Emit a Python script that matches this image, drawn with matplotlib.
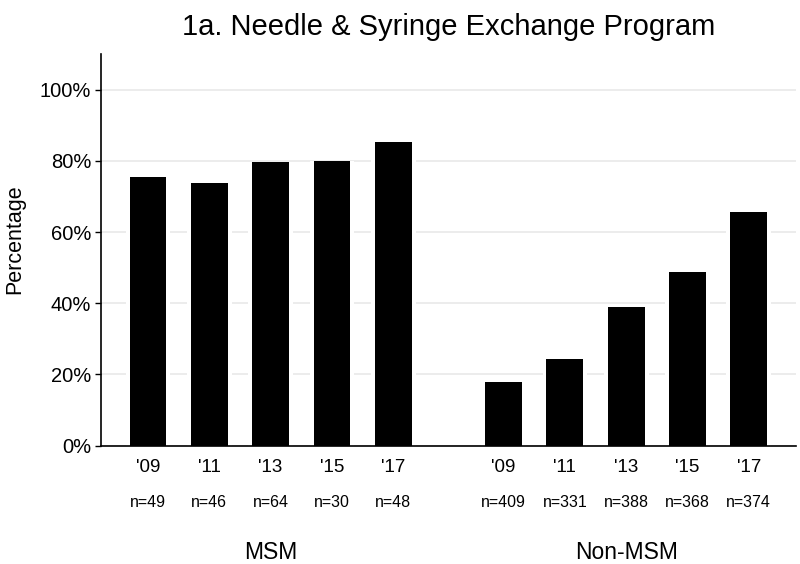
import matplotlib
matplotlib.use("Agg")
import matplotlib.pyplot as plt
import numpy as np

plt.rcParams['font.family'] = ['Liberation Sans', 'DejaVu Sans']

groups = ["MSM", "Non-MSM"]
years = ["'09", "'11", "'13", "'15", "'17"]
msm_values = [75.5, 73.8, 79.7, 79.9, 85.3]
nonmsm_values = [18.0, 24.3, 39.0, 48.7, 65.7]
msm_n = ["n=49", "n=46", "n=64", "n=30", "n=48"]
nonmsm_n = ["n=409", "n=331", "n=388", "n=368", "n=374"]
title = "1a. Needle & Syringe Exchange Program"
ylabel = "Percentage"

fig = plt.figure(figsize=(8, 5.64), dpi=100)
ax = fig.add_axes([0.126, 0.21, 0.869, 0.694])

group_gap = 1.8
x_msm = np.arange(len(years))
x_non = np.arange(len(years)) + len(years) - 1 + group_gap
xs = np.concatenate([x_msm, x_non])
vals = np.array(msm_values + nonmsm_values) / 100.0

bw = 0.6
# white halo behind bars to break gridlines
ax.bar(xs, vals, width=bw + 0.13, color='white', zorder=2)
ax.bar(xs, vals, width=bw, color='black', zorder=3)

ax.set_ylim(0, 1.1)
ax.set_xlim(-0.77, x_non[-1] + 0.77)
ax.set_yticks([0, 0.2, 0.4, 0.6, 0.8, 1.0])
ax.set_yticklabels(["0%", "20%", "40%", "60%", "80%", "100%"])
ax.yaxis.grid(True, color='#e9e9e9', linewidth=1.2, zorder=0)
ax.set_axisbelow(True)
ax.tick_params(axis='y', length=4, width=1, pad=3, labelsize=14.5)
ax.set_xticks([])

for s in ['top', 'right']:
    ax.spines[s].set_visible(False)
for s in ['left', 'bottom']:
    ax.spines[s].set_linewidth(1.2)
    ax.spines[s].set_zorder(4)

ax.set_ylabel(ylabel, fontsize=15.5, labelpad=14)
ax.yaxis.set_label_coords(-0.108, 0.527)
ax.set_title(title, fontsize=21, pad=14)

labels_n = msm_n + nonmsm_n
yrs = years + years
for x, yl, nl in zip(xs, yrs, labels_n):
    ax.annotate(yl, xy=(x, 0), xycoords=('data', 'axes fraction'),
                xytext=(0, -16), textcoords='offset points',
                ha='center', va='center', fontsize=13.5)
    ax.annotate(nl, xy=(x, 0), xycoords=('data', 'axes fraction'),
                xytext=(0, -41.3), textcoords='offset points',
                ha='center', va='center', fontsize=11.5)

for g, xg in zip(groups, [x_msm.mean(), x_non.mean()]):
    ax.annotate(g, xy=(xg, 0), xycoords=('data', 'axes fraction'),
                xytext=(0, -77), textcoords='offset points',
                ha='center', va='center', fontsize=16.5)

fig.savefig("out.png", dpi=100)
